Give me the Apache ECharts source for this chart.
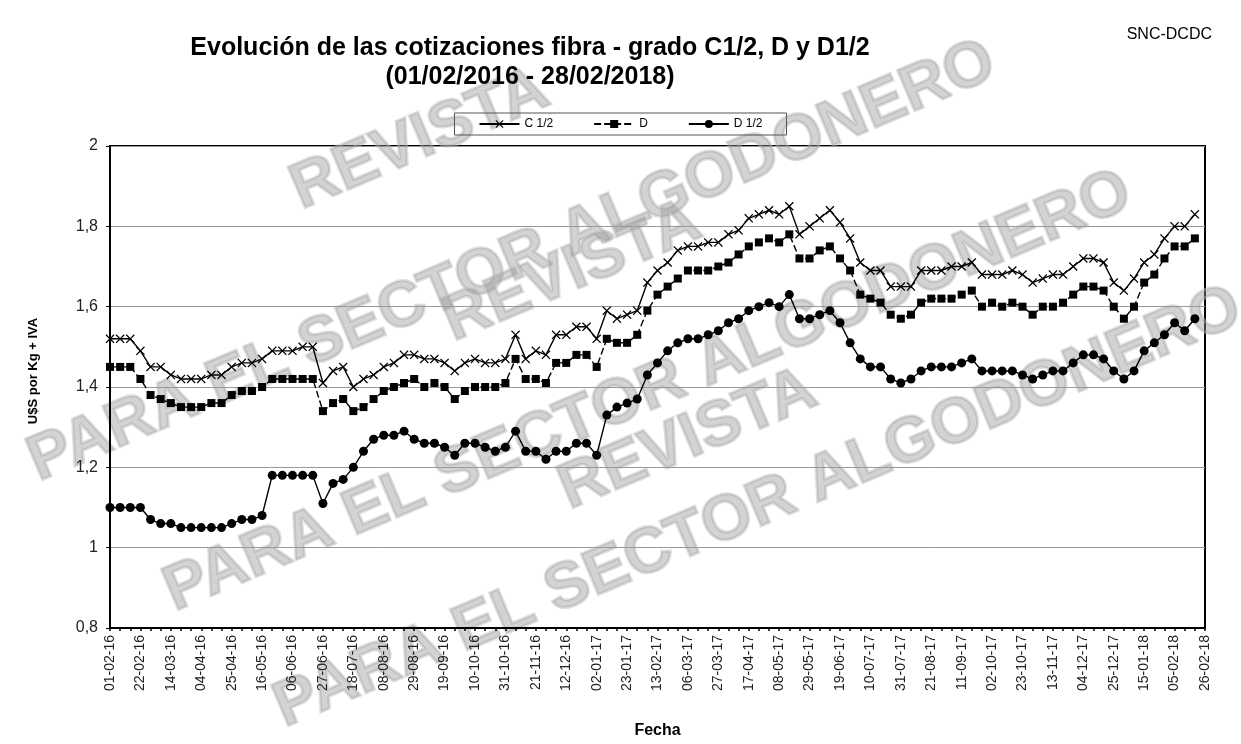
<!DOCTYPE html>
<html>
<head>
<meta charset="utf-8">
<script src="https://cdn.jsdelivr.net/npm/echarts@6/dist/echarts.min.js"></script>
<style>
  html, body { margin: 0; padding: 0; background: #fff; }
  #chart { width: 1241px; height: 744px; }
</style>
</head>
<body>
<div id="chart"></div>
<script>
// fechas semanales (lunes)
var fechas = [
  "01-02-16","08-02-16","15-02-16","22-02-16","29-02-16","07-03-16","14-03-16","21-03-16","28-03-16",
  "04-04-16","11-04-16","18-04-16","25-04-16","02-05-16","09-05-16","16-05-16","23-05-16","30-05-16",
  "06-06-16","13-06-16","20-06-16","27-06-16","04-07-16","11-07-16","18-07-16","25-07-16",
  "01-08-16","08-08-16","15-08-16","22-08-16","29-08-16","05-09-16","12-09-16","19-09-16","26-09-16",
  "03-10-16","10-10-16","17-10-16","24-10-16","31-10-16","07-11-16","14-11-16","21-11-16","28-11-16",
  "05-12-16","12-12-16","19-12-16","26-12-16",
  "02-01-17","09-01-17","16-01-17","23-01-17","30-01-17","06-02-17","13-02-17","20-02-17","27-02-17",
  "06-03-17","13-03-17","20-03-17","27-03-17","03-04-17","10-04-17","17-04-17","24-04-17",
  "01-05-17","08-05-17","15-05-17","22-05-17","29-05-17","05-06-17","12-06-17","19-06-17","26-06-17",
  "03-07-17","10-07-17","17-07-17","24-07-17","31-07-17","07-08-17","14-08-17","21-08-17","28-08-17",
  "04-09-17","11-09-17","18-09-17","25-09-17","02-10-17","09-10-17","16-10-17","23-10-17","30-10-17",
  "06-11-17","13-11-17","20-11-17","27-11-17","04-12-17","11-12-17","18-12-17","25-12-17",
  "01-01-18","08-01-18","15-01-18","22-01-18","29-01-18","05-02-18","12-02-18","19-02-18","26-02-18"
];

var gradoC12 = [
  1.52,1.52,1.52,1.49,1.45,1.45,1.43,1.42,1.42,1.42,1.43,1.43,1.45,1.46,1.46,1.47,1.49,1.49,1.49,1.50,
  1.50,1.41,1.44,1.45,1.40,1.42,1.43,1.45,1.46,1.48,1.48,1.47,1.47,1.46,1.44,1.46,1.47,1.46,1.46,1.47,
  1.53,1.47,1.49,1.48,1.53,1.53,1.55,1.55,1.52,1.59,1.57,1.58,1.59,1.66,1.69,1.71,1.74,1.75,1.75,1.76,
  1.76,1.78,1.79,1.82,1.83,1.84,1.83,1.85,1.78,1.80,1.82,1.84,1.81,1.77,1.71,1.69,1.69,1.65,1.65,1.65,
  1.69,1.69,1.69,1.70,1.70,1.71,1.68,1.68,1.68,1.69,1.68,1.66,1.67,1.68,1.68,1.70,1.72,1.72,1.71,1.66,
  1.64,1.67,1.71,1.73,1.77,1.80,1.80,1.83,null
];

var gradoD = [
  1.45,1.45,1.45,1.42,1.38,1.37,1.36,1.35,1.35,1.35,1.36,1.36,1.38,1.39,1.39,1.40,1.42,1.42,1.42,1.42,
  1.42,1.34,1.36,1.37,1.34,1.35,1.37,1.39,1.40,1.41,1.42,1.40,1.41,1.40,1.37,1.39,1.40,1.40,1.40,1.41,
  1.47,1.42,1.42,1.41,1.46,1.46,1.48,1.48,1.45,1.52,1.51,1.51,1.53,1.59,1.63,1.65,1.67,1.69,1.69,1.69,
  1.70,1.71,1.73,1.75,1.76,1.77,1.76,1.78,1.72,1.72,1.74,1.75,1.72,1.69,1.63,1.62,1.61,1.58,1.57,1.58,
  1.61,1.62,1.62,1.62,1.63,1.64,1.60,1.61,1.60,1.61,1.60,1.58,1.60,1.60,1.61,1.63,1.65,1.65,1.64,1.60,
  1.57,1.60,1.66,1.68,1.72,1.75,1.75,1.77,null
];

var gradoD12 = [
  1.10,1.10,1.10,1.10,1.07,1.06,1.06,1.05,1.05,1.05,1.05,1.05,1.06,1.07,1.07,1.08,1.18,1.18,1.18,1.18,
  1.18,1.11,1.16,1.17,1.20,1.24,1.27,1.28,1.28,1.29,1.27,1.26,1.26,1.25,1.23,1.26,1.26,1.25,1.24,1.25,
  1.29,1.24,1.24,1.22,1.24,1.24,1.26,1.26,1.23,1.33,1.35,1.36,1.37,1.43,1.46,1.49,1.51,1.52,1.52,1.53,
  1.54,1.56,1.57,1.59,1.60,1.61,1.60,1.63,1.57,1.57,1.58,1.59,1.56,1.51,1.47,1.45,1.45,1.42,1.41,1.42,
  1.44,1.45,1.45,1.45,1.46,1.47,1.44,1.44,1.44,1.44,1.43,1.42,1.43,1.44,1.44,1.46,1.48,1.48,1.47,1.44,
  1.42,1.44,1.49,1.51,1.53,1.56,1.54,1.57,null
];

var font = "Liberation Sans, Arial, sans-serif";
var cruz = "path://M0,1 L1,0 L5,4 L9,0 L10,1 L6,5 L10,9 L9,10 L5,6 L1,10 L0,9 L4,5 Z";

// marca de agua
var marcas = [
  { t: "REVISTA", x: 420, y: 140 },
  { t: "PARA EL SECTOR ALGODONERO", x: 512, y: 262 },
  { t: "REVISTA", x: 572, y: 272 },
  { t: "PARA EL SECTOR ALGODONERO", x: 648, y: 392 },
  { t: "REVISTA", x: 688, y: 440 },
  { t: "PARA EL SECTOR ALGODONERO", x: 758, y: 508 }
];

var chartDom = document.getElementById("chart");
var myChart = echarts.init(chartDom);

var graphics = marcas.map(function (m) {
  return {
    type: "text",
    x: m.x,
    y: m.y,
    rotation: 0.4,
    z: 0,
    silent: true,
    style: {
      text: m.t,
      fill: "rgba(150,150,150,0.42)",
      stroke: "rgba(190,190,190,0.5)",
      lineWidth: 3,
      font: "bold 64px " + font,
      align: "center",
      verticalAlign: "middle"
    }
  };
});
graphics.push({
  type: "text",
  x: 33,
  y: 371,
  rotation: Math.PI / 2,
  z: 10,
  style: {
    text: "U$S por Kg + IVA",
    fill: "#000",
    font: "bold 13px " + font,
    align: "center",
    verticalAlign: "middle"
  }
});

function serie(nombre, datos, simbolo, tam, tipo) {
  return {
    name: nombre,
    type: "line",
    data: datos,
    symbol: simbolo,
    symbolSize: tam,
    showAllSymbol: true,
    z: 5,
    itemStyle: { color: "#000" },
    lineStyle: { color: "#000", width: 1.4, type: tipo }
  };
}

var option = {
  animation: false,
  backgroundColor: "#fff",
  textStyle: { fontFamily: font },
  title: [
    {
      text: "Evolución de las cotizaciones fibra - grado C1/2, D y D1/2\n(01/02/2016 - 28/02/2018)",
      left: 525,
      top: 29,
      textAlign: "center",
      textStyle: { fontSize: 25, fontWeight: "bold", color: "#000", lineHeight: 29, fontFamily: font }
    },
    {
      text: "SNC-DCDC",
      right: 24,
      top: 22,
      textStyle: { fontSize: 16, fontWeight: "normal", color: "#000", fontFamily: font }
    }
  ],
  legend: {
    top: 113,
    left: "center",
    itemWidth: 40,
    itemHeight: 10,
    itemGap: 40,
    padding: [5, 24],
    borderColor: "#555",
    borderWidth: 1,
    textStyle: { fontSize: 12, color: "#000", fontFamily: font },
    data: ["C 1/2", "D", "D 1/2"]
  },
  grid: {
    left: 110,
    right: 36,
    top: 146,
    bottom: 106,
    show: true,
    borderColor: "#000",
    borderWidth: 2,
    backgroundColor: "transparent"
  },
  xAxis: {
    type: "category",
    data: fechas,
    boundaryGap: false,
    name: "Fecha",
    nameLocation: "middle",
    nameGap: 95,
    nameTextStyle: { fontSize: 16, fontWeight: "bold", color: "#000" },
    axisLine: { lineStyle: { color: "#000", width: 2 } },
    axisTick: { show: true, interval: 0, length: 3, lineStyle: { color: "#000", width: 1.5 } },
    axisLabel: { interval: 2, rotate: 90, fontSize: 14, color: "#222", margin: 7 },
    splitLine: { show: false }
  },
  yAxis: {
    type: "value",
    min: 0.8,
    max: 2,
    interval: 0.2,
    axisLine: { show: true, lineStyle: { color: "#000", width: 2 } },
    axisTick: { show: true, length: 4, lineStyle: { color: "#000" } },
    axisLabel: {
      fontSize: 16,
      color: "#222",
      margin: 12,
      formatter: function (v) {
        return String(Math.round(v * 10) / 10).replace(".", ",");
      }
    },
    splitLine: { show: true, lineStyle: { color: "#999", width: 1 } }
  },
  graphic: graphics,
  series: [
    serie("C 1/2", gradoC12, cruz, 9, "solid"),
    serie("D", gradoD, "rect", 8, [7, 3]),
    serie("D 1/2", gradoD12, "circle", 9, "solid")
  ]
};

option && myChart.setOption(option);
</script>
</body>
</html>
